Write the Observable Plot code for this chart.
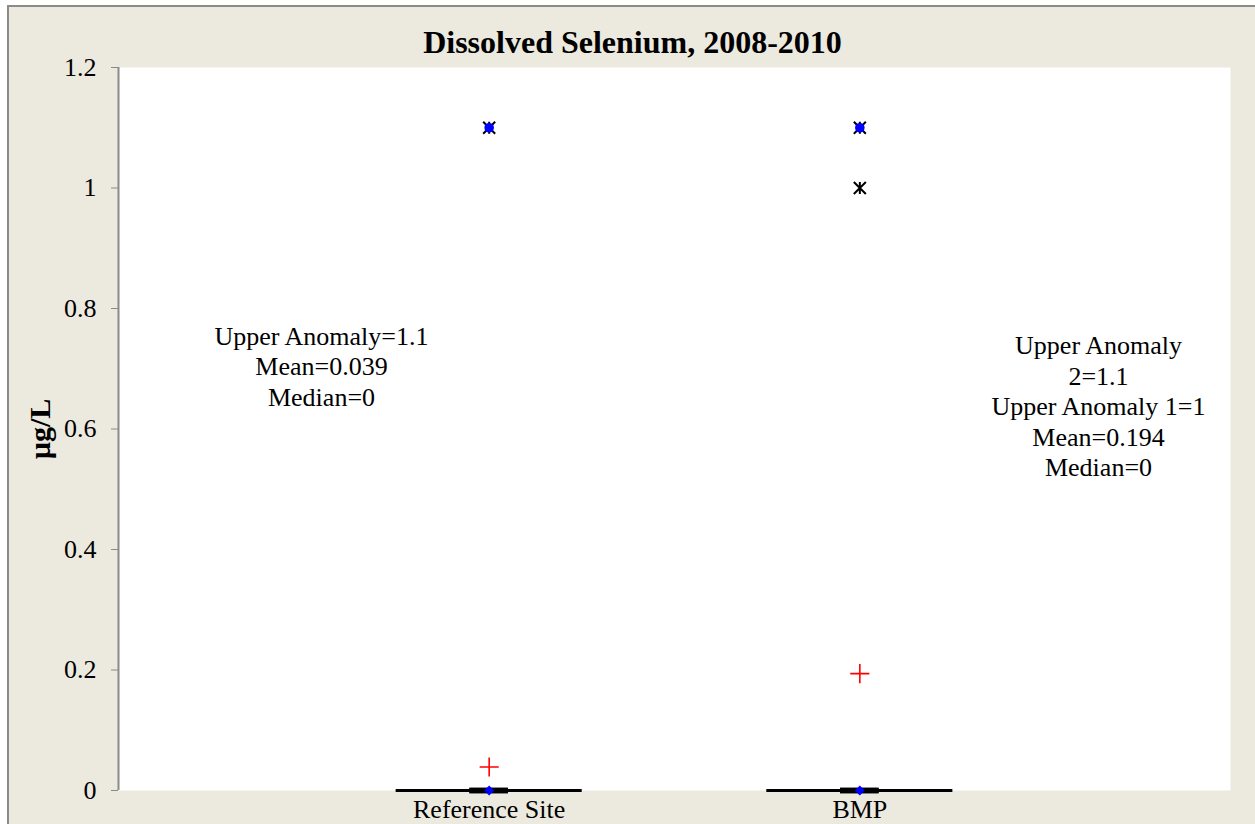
<!DOCTYPE html>
<html>
<head>
<meta charset="utf-8">
<script src="https://cdn.jsdelivr.net/npm/d3@7"></script>
<script src="https://cdn.jsdelivr.net/npm/@observablehq/plot@0.6"></script>
<style>
  html, body { margin: 0; padding: 0; background: white; }
  #bg { position: absolute; left: 7px; top: 5px; width: 1248px; height: 819px;
        background: #ECE9DF; border-left: 2px solid #8a8a8a; border-top: 2px solid #8a8a8a; box-sizing: border-box; }
  #chart { position: absolute; left: 0; top: 0; }
</style>
</head>
<body>
<div id="bg"></div>
<div id="chart"></div>
<script>
const title = "Dissolved Selenium, 2008-2010";
const yLabel = "µg/L";
const categories = ["Reference Site", "BMP"];
const minimums = [0, 0];
const q1s = [0, 0];
const medians = [0, 0];
const q3s = [0, 0];
const maximums = [1.1, 1.1];
const means = [0.039, 0.194];
const anomalyCategories = ["Reference Site", "BMP", "BMP"];
const anomalyValues = [1.1, 1.1, 1];
const yTicks = [0, 0.2, 0.4, 0.6, 0.8, 1, 1.2];
const annotationLeft = "Upper Anomaly=1.1\nMean=0.039\nMedian=0";
const annotationRight = "Upper Anomaly\n2=1.1\nUpper Anomaly 1=1\nMean=0.194\nMedian=0";

const stats = categories.map((c, i) => ({
  category: c, pos: i + 1,
  min: minimums[i], q1: q1s[i], median: medians[i], q3: q3s[i], max: maximums[i], mean: means[i]
}));
const anomalies = anomalyCategories.map((c, i) => ({pos: categories.indexOf(c) + 1, value: anomalyValues[i]}));

const star = {
  draw(context, size) {
    const r = Math.sqrt(size / Math.PI);
    context.moveTo(-r, -r); context.lineTo(r, r);
    context.moveTo(r, -r); context.lineTo(-r, r);
    context.moveTo(0, -r); context.lineTo(0, r);
  }
};

const font = "'Liberation Serif', 'Times New Roman', serif";
const whiskerHalf = 0.251;
const boxHalf = 0.052;

const chart = Plot.plot({
  width: 1255,
  height: 824,
  marginLeft: 118,
  marginRight: 25,
  marginTop: 67,
  marginBottom: 34,
  style: {background: "transparent", fontFamily: font, fontSize: "26px", color: "black", overflow: "visible"},
  x: {type: "linear", domain: [0, 3]},
  y: {domain: [0, 1.2]},
  marks: [
    Plot.frame({fill: "white", stroke: "none"}),
    Plot.ruleX([0], {stroke: "#8a8a8a", strokeWidth: 2}),
    Plot.axisY({ticks: yTicks, tickSize: 7, tickPadding: 15, stroke: "#8a8a8a", fill: "black", tickFormat: d => String(d), label: null, fontSize: 26}),
    Plot.axisX({ticks: [1, 2], tickSize: 0, tickPadding: 9, tickFormat: d => categories[d - 1], label: null, fill: "black", fontSize: 26}),
    Plot.ruleY(stats, {y: "median", x1: d => d.pos - whiskerHalf, x2: d => d.pos + whiskerHalf, stroke: "black", strokeWidth: 3}),
    Plot.ruleY(stats, {y: "q1", x1: d => d.pos - boxHalf, x2: d => d.pos + boxHalf, stroke: "black", strokeWidth: 5.5}),
    Plot.ruleY(stats, {y: "q3", x1: d => d.pos - boxHalf, x2: d => d.pos + boxHalf, stroke: "black", strokeWidth: 5.5}),
    Plot.dot(stats, {x: "pos", y: "min", symbol: "diamond2", r: 4.5, fill: "blue", stroke: "none"}),
    Plot.dot(anomalies, {x: "pos", y: "value", symbol: star, r: 6, fill: "none", stroke: "black", strokeWidth: 2}),
    Plot.dot(stats, {x: "pos", y: "max", symbol: "circle", r: 4.8, fill: "blue", stroke: "none"}),
    Plot.dot(stats, {x: "pos", y: "mean", symbol: "plus", r: 6.2, fill: "none", stroke: "red", strokeWidth: 1.6}),
    Plot.text([annotationLeft], {text: d => d, frameAnchor: "top-left", dx: 203, dy: 298, textAnchor: "middle", lineAnchor: "middle", lineHeight: 1.17, fontSize: 26, fill: "black"}),
    Plot.text([annotationRight], {text: d => d, frameAnchor: "top-left", dx: 980, dy: 338, textAnchor: "middle", lineAnchor: "middle", lineHeight: 1.17, fontSize: 26, fill: "black"}),
    Plot.text([title], {text: d => d, frameAnchor: "top", dx: -42, dy: -25, textAnchor: "middle", lineAnchor: "middle", fontWeight: "bold", fontSize: 32, fill: "black"}),
    Plot.text([yLabel], {text: d => d, frameAnchor: "left", dx: -78, rotate: -90, textAnchor: "middle", lineAnchor: "middle", fontWeight: "bold", fontSize: 30, fill: "black"})
  ]
});
document.getElementById("chart").appendChild(chart);
</script>
</body>
</html>
